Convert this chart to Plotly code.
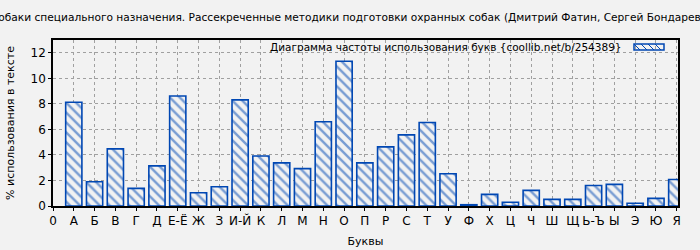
import plotly.graph_objects as go

# ---- data ----
tick_labels = ["0", "А", "Б", "В", "Г", "Д", "Е-Ё", "Ж", "З", "И-Й", "К", "Л", "М", "Н", "О",
               "П", "Р", "С", "Т", "У", "Ф", "Х", "Ц", "Ч", "Ш", "Щ", "Ь-Ъ", "Ы", "Э", "Ю", "Я"]
bar_letters = tick_labels[1:]
values = [8.13, 1.90, 4.47, 1.38, 3.14, 8.62, 1.04, 1.51, 8.31, 3.92, 3.38, 2.93, 6.60, 11.33, 3.38,
          4.63, 5.57, 6.54, 2.52, 0.10, 0.91, 0.29, 1.22, 0.52, 0.52, 1.61, 1.69, 0.21, 0.60, 2.08]
series_name = "Диаграмма частоты использования букв {coollib.net/b/254389}"
title_text = ("Собаки специального назначения. Рассекреченные методики подготовки охранных собак "
              "(Дмитрий Фатин, Сергей Бондарев)")
y_ticks = [0, 2, 4, 6, 8, 10, 12]

# ---- style ----
W, H = 700, 250
ML, MR, MT, MB = 53, 22, 40, 44
BG = "#f2f2f2"
BLUE = "#0047b3"
GRID = "#a0a0a0"
FONT = "DejaVu Sans"

xpos = list(range(1, len(bar_letters) + 1))

fig = go.Figure()
fig.add_trace(go.Bar(
    x=xpos, y=values, width=0.78, name=series_name, showlegend=False,
    marker=dict(color=BG, line=dict(color=BLUE, width=1.6),
                pattern=dict(shape="\\", fgcolor=BLUE, bgcolor=BG, size=7, solidity=0.35)),
))

pw = W - ML - MR
ph = H - MT - MB
def px(x):
    return (x - ML) / pw
def py(y):
    return (H - MB - y) / ph

shapes = []
# legend swatch
sx0, sx1, sy0, sy1 = 634, 664, 44, 50
for k in range(0, 28, 7):
    shapes.append(dict(type="line", xref="paper", yref="paper",
                       x0=px(sx0 + k), x1=px(sx0 + k + 6), y0=py(sy0), y1=py(sy1),
                       line=dict(color=BLUE, width=1)))
shapes.append(dict(type="rect", xref="paper", yref="paper",
                   x0=px(sx0), x1=px(sx1), y0=py(sy1), y1=py(sy0),
                   line=dict(color=BLUE, width=1.5)))

fig.update_layout(
    width=W, height=H, autosize=False,
    margin=dict(l=ML, r=MR, t=MT, b=MB, pad=0),
    paper_bgcolor=BG, plot_bgcolor=BG,
    font=dict(family=FONT, size=12, color="black"),
    title=dict(text=title_text, xref="container", x=0.497, xanchor="center",
               yref="container", y=1 - 17 / H, yanchor="middle",
               font=dict(family=FONT, size=10.62, color="black")),
    shapes=shapes,
    annotations=[
        dict(text=series_name, xref="paper", yref="paper",
             x=px(624), y=py(47), xanchor="right", yanchor="middle",
             showarrow=False, font=dict(family=FONT, size=10.5, color="black")),
    ],
    xaxis=dict(range=[0, 30.06], tickmode="array", tickvals=list(range(len(tick_labels))),
               ticktext=tick_labels, tickangle=0, automargin=False,
               showgrid=True, gridcolor=GRID, griddash="dot", gridwidth=1,
               showline=True, linecolor="black", linewidth=1.5, mirror=True,
               ticks="outside", ticklen=3, tickcolor="black", zeroline=False,
               title=dict(text="Буквы", standoff=10, font=dict(size=11))),
    yaxis=dict(range=[0, 13], tickmode="array", tickvals=y_ticks, automargin=False,
               showgrid=True, gridcolor=GRID, griddash="dot", gridwidth=1,
               showline=True, linecolor="black", linewidth=1.5, mirror=True,
               ticks="outside", ticklen=3, tickcolor="black", zeroline=False,
               title=dict(text="% использования в тексте", standoff=14, font=dict(size=11))),
)

fig.write_html("out.html")
